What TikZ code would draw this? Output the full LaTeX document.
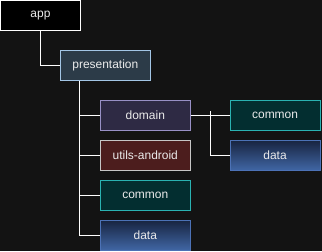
\documentclass[tikz,border=0pt]{standalone}
\usepackage{fontspec}
\setmainfont{Liberation Sans}
\usetikzlibrary{positioning}
\definecolor{bgdark}{HTML}{131313}
\definecolor{presfill}{HTML}{2C3B48}
\definecolor{presline}{HTML}{A3C6E6}
\definecolor{domfill}{HTML}{2E2A44}
\definecolor{domline}{HTML}{9890C6}
\definecolor{utilfill}{HTML}{4C1D1D}
\definecolor{utilline}{HTML}{C6C6C6}
\definecolor{comfill}{HTML}{032E30}
\definecolor{comline}{HTML}{2AB2B2}
\definecolor{datatop}{HTML}{182440}
\definecolor{databot}{HTML}{4066A4}
\definecolor{dataline}{HTML}{4C72B6}
\begin{document}
\begin{tikzpicture}[x=1pt,y=1pt]%[grow'=right]
      \tikzset{module/.style={draw, line width=1pt, minimum width=90pt, minimum height=30pt,
                inner sep=0pt, text=white!92!black, font=\fontsize{12}{14}\selectfont},
               branch/.style={draw=white, line width=1pt},
               pres/.style={module, fill=presfill, draw=presline},
               dom/.style={module, fill=domfill, draw=domline},
               util/.style={module, fill=utilfill, draw=utilline},
               com/.style={module, fill=comfill, draw=comline},
               dat/.style={module, top color=datatop, bottom color=databot, draw=dataline}}
      \fill[bgdark] (0,0) rectangle (322,-251);
      % modules
      \node[module, fill=black, draw=white, minimum width=80pt] (app) at (40,-15) {app};
      \node[pres] (presentation) at (105,-65) {presentation};
      \node[dom] (domain) at (145,-115) {domain};
      \node[util] (utils) at (145,-155) {utils-android};
      \node[com] (common) at (145,-195) {common};
      \node[dat] (data) at (145,-235) {data};
      \node[com] (domcommon) at (275,-115) {common};
      \node[dat] (domdata) at (275,-155) {data};
      \coordinate (fork) at (210,-111);
      % connectors
      \draw[branch] (app.south) |- (presentation.west);
      \foreach \child in {domain,utils,common,data}
          \draw[branch] ([xshift=20pt]presentation.south west) |- (\child.west);
      \draw[branch] (domain.east) -- (domcommon.west);
      \draw[branch] (fork) |- (domdata.west);
\end{tikzpicture}
\end{document}
